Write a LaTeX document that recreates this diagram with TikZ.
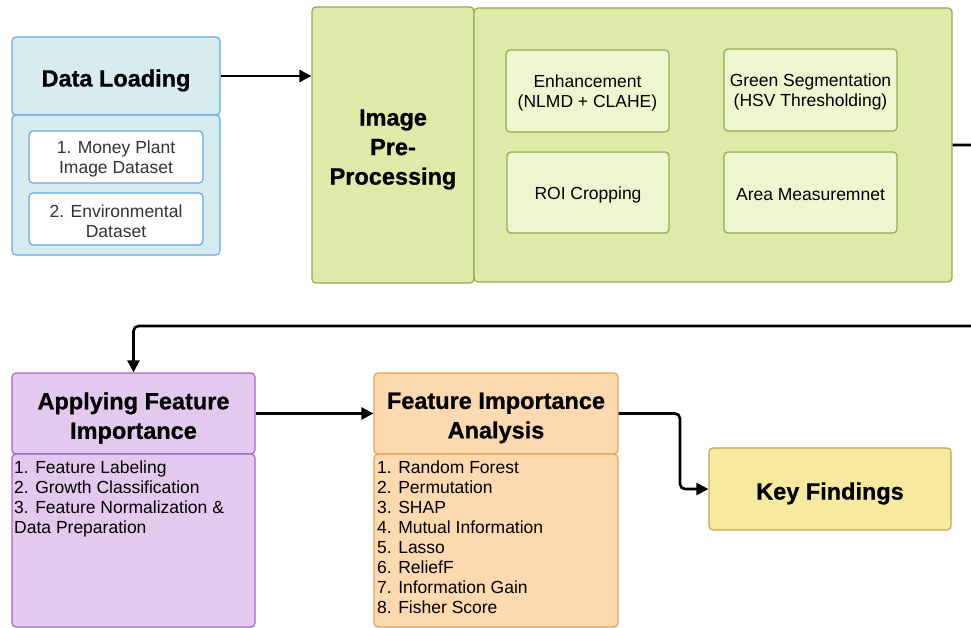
\documentclass[tikz,border=0pt]{standalone}
\usepackage{fontspec}
\setmainfont{Liberation Sans}
\newfontface\heavyface{Liberation Sans Bold}[FakeBold=0.8]
\usetikzlibrary{arrows.meta}
\definecolor{dlfill}{HTML}{D6ECEF}
\definecolor{dldraw}{HTML}{62AAE8}
\definecolor{grfill}{HTML}{DEEBA8}
\definecolor{grinner}{HTML}{EEF6D0}
\definecolor{grdraw}{HTML}{93AA55}
\definecolor{pufill}{HTML}{E4C9EF}
\definecolor{pudraw}{HTML}{A963C9}
\definecolor{orfill}{HTML}{FDD9AF}
\definecolor{ordraw}{HTML}{E8A24A}
\definecolor{yefill}{HTML}{F6EA9E}
\definecolor{yedraw}{HTML}{C9A05A}
\definecolor{txtgray}{HTML}{333333}
\tikzset{
  box/.style={draw, line width=1.2pt, rounded corners=4pt, inner sep=0pt},
  hlab/.style={font=\fontsize{23.5}{29.5}\selectfont\heavyface, align=center, inner sep=0pt, yshift=-4.5pt},
  blab/.style={font=\fontsize{17.5}{19.5}\selectfont, align=center, inner sep=0pt, yshift=-2pt},
  dlbox/.style={box, fill=dlfill, draw=dldraw},
  inwhite/.style={box, fill=white, draw=dldraw},
  grbox/.style={box, fill=grfill, draw=grdraw},
  grin/.style={box, fill=grinner, draw=grdraw},
  pubox/.style={box, fill=pufill, draw=pudraw},
  orbox/.style={box, fill=orfill, draw=ordraw},
  yebox/.style={box, fill=yefill, draw=yedraw},
  conn/.style={line width=2.6pt, rounded corners=5pt, -{Triangle[length=12pt,width=12pt]}},
  listtext/.style={font=\fontsize{17.5}{20}\selectfont, anchor=north west, inner sep=0pt, align=left}
}
\begin{document}
\begin{tikzpicture}[x=1pt,y=-1pt]
\useasboundingbox (0,0) rectangle (971,628);
\clip (0,0) rectangle (971,628);
% Data loading
\node[dlbox, minimum width=208pt, minimum height=78pt, label={[hlab]center:Data Loading}] (dlh) at (116,76) {};
\node[dlbox, minimum width=208pt, minimum height=140pt] (dlb) at (116,185) {};
\node[inwhite, minimum width=174pt, minimum height=52pt, label={[blab, text=txtgray]center:1. Money Plant\\Image Dataset}] (ds1) at (116,157) {};
\node[inwhite, minimum width=174pt, minimum height=52pt, label={[blab, text=txtgray]center:2. Environmental\\Dataset}] (ds2) at (116,219) {};
% Image pre-processing
\node[grbox, minimum width=162pt, minimum height=276pt, label={[hlab]center:Image\\Pre-\\Processing}] (ipp) at (393,145) {};
\node[grbox, minimum width=478pt, minimum height=274pt] (panel) at (713,145) {};
\node[grin, minimum width=163pt, minimum height=82pt, label={[blab]center:Enhancement\\(NLMD + CLAHE)}] (enh) at (587.5,91) {};
\node[grin, minimum width=173pt, minimum height=82pt, label={[blab]center:Green Segmentation\\(HSV Thresholding)}] (gs) at (810.5,90) {};
\node[grin, minimum width=162pt, minimum height=81pt, label={[blab]center:ROI Cropping}] (roi) at (588,192.5) {};
\node[grin, minimum width=173pt, minimum height=81pt, label={[blab]center:Area Measuremnet}] (area) at (810.5,192.5) {};
% Applying feature importance
\node[pubox, minimum width=243pt, minimum height=81pt, label={[hlab]center:Applying Feature\\Importance}] (afih) at (133.5,413.5) {};
\node[pubox, minimum width=243pt, minimum height=173pt] (afib) at (133.5,540.5) {};
\node[listtext] (afit) at (14,461) {1. Feature Labeling\\2. Growth Classification\\3. Feature Normalization \&\\Data Preparation};
% Feature importance analysis
\node[orbox, minimum width=244pt, minimum height=81pt, label={[hlab]center:Feature Importance\\Analysis}] (fiah) at (496,413.5) {};
\node[orbox, minimum width=244pt, minimum height=173pt] (fiab) at (496,540.5) {};
\node[listtext] (fiat) at (377,461) {1. Random Forest\\2. Permutation\\3. SHAP\\4. Mutual Information\\5. Lasso\\6. ReliefF\\7. Information Gain\\8. Fisher Score};
% Key findings
\node[yebox, minimum width=242pt, minimum height=82pt, label={[hlab]center:Key Findings}] (kf) at (830,489) {};
% connectors
\coordinate (turn) at (995,326);
\coordinate (bend) at (680,0);
\draw[conn] (dlh.east) -- (dlh.east -| ipp.west);
\draw[conn] (panel.east) -| (turn) -| (afih.north);
\draw[conn] (afih.east) -- (afih.east -| fiah.west);
\draw[conn] (fiah.east) -- (fiah.east -| bend) |- (kf.west);
\end{tikzpicture}
\end{document}
